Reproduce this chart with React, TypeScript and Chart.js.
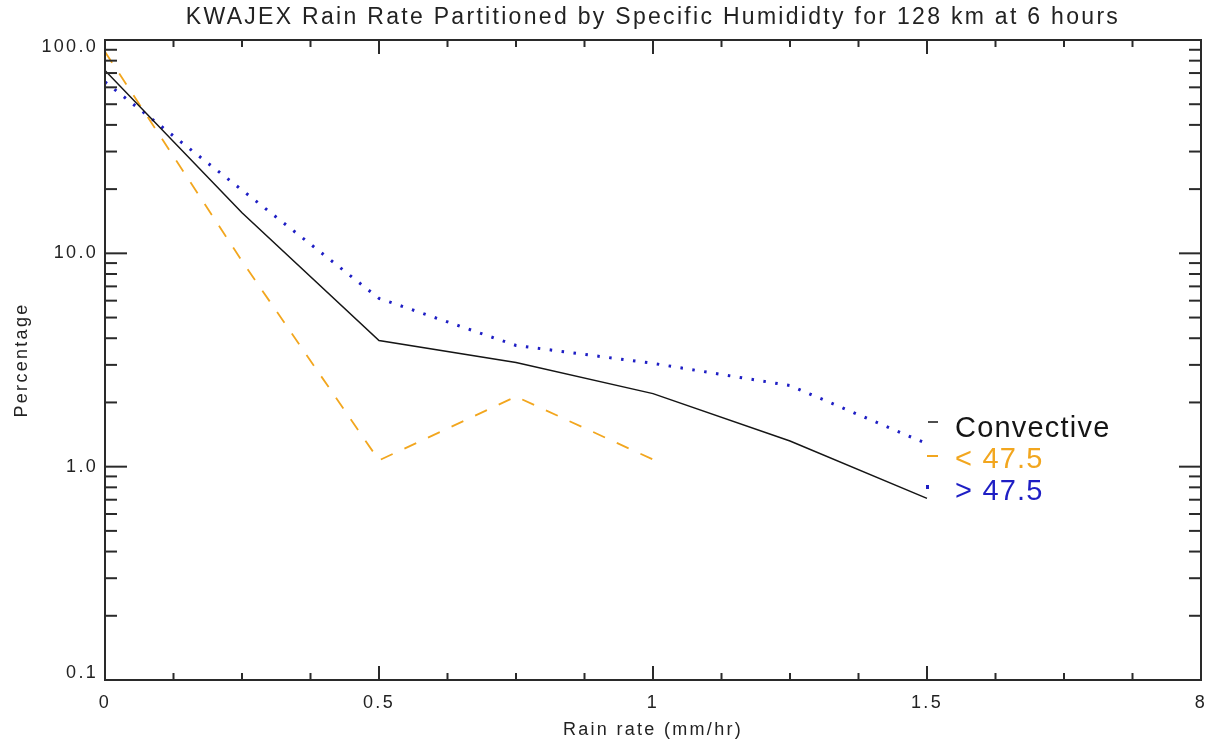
import React, { useEffect, useRef } from "react";
import { Chart, registerables } from "chart.js";

Chart.register(...registerables);

const FONT = "'Liberation Sans', Arial, sans-serif";

const titleText = "KWAJEX Rain Rate Partitioned by Specific Humididty for 128 km at 6 hours";
const xTitle = "Rain rate (mm/hr)";
const yTitle = "Percentage";

const rainRate = [0, 0.25, 0.5, 0.75, 1.0, 1.25, 1.5];
const convective = [72, 15.5, 3.9, 3.08, 2.2, 1.32, 0.71];
const lowRate = [0, 0.25, 0.5, 0.75, 1.0];
const lowHumidity = [88, 9.2, 1.07, 2.13, 1.08];
const highHumidity = [63.6, 19.8, 6.15, 3.7, 3.05, 2.4, 1.28];

const seriesLabels = ["Convective", "< 47.5", "> 47.5"];

const xTickValues = [0, 0.5, 1, 1.5, 2];
const xTickLabels = ["0", "0.5", "1", "1.5", "8"];
const yTickValues = [0.1, 1, 10, 100];
const yTickLabels = ["0.1", "1.0", "10.0", "100.0"];

const BLACK = "#151515";
const ORANGE = "#f2a61e";
const BLUE = "#1e1ec4";
const AXIS = "#2a2a2a";

const spacingPlugin = {
  id: "idlSpacing",
  beforeDraw(chart: any) {
    (chart.ctx as any).letterSpacing = "2.3px";
    // IDL nudges the end labels of the vertical axis inward
    const ys = chart.scales.y;
    const items = ys.getLabelItems();
    if (items && items.length && !ys._idlNudged) {
      items[0].options.translation[1] -= 7;
      items[items.length - 1].options.translation[1] += 7;
      ys._idlNudged = true;
    }
  },
};

const titlePlugin = {
  id: "idlTitle",
  afterDraw(chart: any) {
    const { ctx, chartArea } = chart;
    ctx.save();
    (ctx as any).letterSpacing = "2.3px";
    ctx.font = `23px ${FONT}`;
    ctx.fillStyle = "#222";
    ctx.textAlign = "center";
    ctx.textBaseline = "middle";
    ctx.fillText(titleText, (chartArea.left + chartArea.right) / 2, 18);
    ctx.restore();
  },
};

const framePlugin = {
  id: "idlFrame",
  afterDatasetsDraw(chart: any) {
    const { ctx, chartArea } = chart;
    const { left, right, top, bottom } = chartArea;
    const xs = chart.scales.x;
    const ys = chart.scales.y;
    ctx.save();
    ctx.strokeStyle = AXIS;
    ctx.lineWidth = 2;
    ctx.lineCap = "butt";
    ctx.strokeRect(left, top, right - left, bottom - top);
    const seg = (x1: number, y1: number, x2: number, y2: number) => {
      ctx.beginPath();
      ctx.moveTo(x1, y1);
      ctx.lineTo(x2, y2);
      ctx.stroke();
    };
    for (let i = 0; i <= 16; i++) {
      const px = xs.getPixelForValue(i * 0.125);
      const len = i % 4 === 0 ? 14 : 7;
      seg(px, bottom, px, bottom - len);
      seg(px, top, px, top + len);
    }
    const decades = [0.1, 1, 10];
    for (const d of decades) {
      for (let m = 1; m <= 9; m++) {
        const py = ys.getPixelForValue(d * m);
        const len = m === 1 ? 22 : 12;
        seg(left, py, left + len, py);
        seg(right, py, right - len, py);
      }
    }
    const pyTop = ys.getPixelForValue(100);
    seg(left, pyTop, left + 22, pyTop);
    seg(right, pyTop, right - 22, pyTop);
    ctx.restore();
  },
};

const legendPlugin = {
  id: "idlLegend",
  afterDraw(chart: any) {
    const { ctx } = chart;
    const xs = chart.scales.x;
    const x0 = xs.getPixelForValue(1.5);
    const baselines = [437, 468, 500];
    const colors = [BLACK, ORANGE, BLUE];
    ctx.save();
    (ctx as any).letterSpacing = "1.2px";
    ctx.font = `29px ${FONT}`;
    ctx.textAlign = "left";
    ctx.textBaseline = "alphabetic";
    seriesLabels.forEach((lab, i) => {
      ctx.fillStyle = colors[i];
      ctx.fillText(lab, x0 + 28, baselines[i]);
      ctx.strokeStyle = colors[i];
      if (i === 0) {
        ctx.lineWidth = 1.5;
        ctx.beginPath();
        ctx.moveTo(x0 + 1, baselines[i] - 15);
        ctx.lineTo(x0 + 11, baselines[i] - 15);
        ctx.stroke();
      } else if (i === 1) {
        ctx.lineWidth = 2;
        ctx.beginPath();
        ctx.moveTo(x0, baselines[i] - 12);
        ctx.lineTo(x0 + 11, baselines[i] - 12);
        ctx.stroke();
      } else {
        ctx.fillRect(x0 - 1, baselines[i] - 15, 3, 4);
      }
    });
    ctx.restore();
  },
};

export default function App() {
  const ref = useRef<HTMLCanvasElement | null>(null);

  useEffect(() => {
    if (!ref.current) return;
    const chart = new Chart(ref.current, {
      type: "line",
      data: {
        datasets: [
          {
            label: seriesLabels[0],
            data: rainRate.map((x, i) => ({ x, y: convective[i] })),
            borderColor: BLACK,
            borderWidth: 1.5,
            pointRadius: 0,
            tension: 0,
          },
          {
            label: seriesLabels[1],
            data: lowRate.map((x, i) => ({ x, y: lowHumidity[i] })),
            borderColor: ORANGE,
            borderWidth: 1.8,
            borderDash: [13, 13],
            pointRadius: 0,
            tension: 0,
          },
          {
            label: seriesLabels[2],
            data: rainRate.map((x, i) => ({ x, y: highHumidity[i] })),
            borderColor: BLUE,
            borderWidth: 3,
            borderDash: [2.5, 9.5],
            pointRadius: 0,
            tension: 0,
          },
        ],
      },
      options: {
        animation: false,
        responsive: false,
        layout: { padding: { left: 0, right: 12, top: 40, bottom: 0 } },
        plugins: {
          legend: { display: false },
          tooltip: { enabled: false },
          title: { display: false },
        },
        scales: {
          x: {
            type: "linear",
            min: 0,
            max: 2,
            afterBuildTicks: (s: any) => {
              s.ticks = xTickValues.map((v) => ({ value: v }));
            },
            afterFit: (s: any) => {
              s.height = 66;
              s.paddingLeft = 0;
              s.paddingRight = 0;
            },
            ticks: {
              callback: (_v: any, i: number) => xTickLabels[i],
              color: "#222",
              font: { family: FONT, size: 18 },
              padding: 12,
              maxRotation: 0,
              autoSkip: false,
            },
            grid: { display: false, drawTicks: false },
            border: { display: false },
            title: {
              display: true,
              text: xTitle,
              color: "#222",
              font: { family: FONT, size: 18 },
              padding: { top: 0, bottom: 5 },
            },
          },
          y: {
            type: "logarithmic",
            min: 0.1,
            max: 100,
            afterBuildTicks: (s: any) => {
              s.ticks = yTickValues.map((v) => ({ value: v }));
            },
            afterUpdate: (s: any) => {
              s._idlNudged = false;
            },
            afterFit: (s: any) => {
              s.width = 105;
              s.paddingTop = 0;
              s.paddingBottom = 0;
            },
            ticks: {
              callback: (_v: any, i: number) => yTickLabels[i],
              color: "#222",
              font: { family: FONT, size: 18 },
              padding: 7,
              autoSkip: false,
            },
            grid: { display: false, drawTicks: false },
            border: { display: false },
            title: {
              display: true,
              text: yTitle,
              color: "#222",
              font: { family: FONT, size: 18 },
              padding: { top: 11, bottom: 0 },
            },
          },
        },
      },
      plugins: [spacingPlugin, framePlugin, legendPlugin, titlePlugin],
    } as any);
    return () => chart.destroy();
  }, []);

  return (
    <div style={{ position: "absolute", left: 0, top: 0, width: 1213, height: 746, background: "#fff" }}>
      <canvas ref={ref} width={1213} height={746} />
    </div>
  );
}
